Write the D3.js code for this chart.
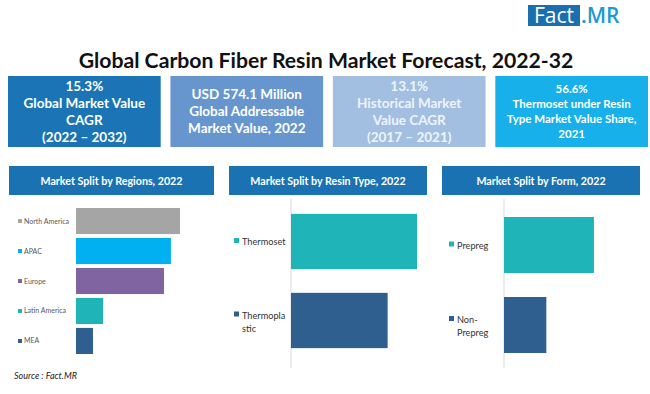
<!DOCTYPE html>
<html>
<head>
<meta charset="utf-8">
<script src="https://cdn.jsdelivr.net/npm/d3@7"></script>
<style>
  body { margin: 0; background: #fff; }
  svg { display: block; font-family: Lato, "Open Sans", sans-serif; }
</style>
</head>
<body>
<script>
// ---- data ----
const kpiTexts = [
  ["15.3%", "Global Market Value", "CAGR", "(2022 \u2013 2032)"],
  ["USD 574.1 Million", "Global Addressable", "Market Value, 2022"],
  ["13.1%", "Historical Market", "Value CAGR", "(2017 \u2013 2021)"],
  ["56.6%", "Thermoset under Resin", "Type Market Value Share,", "2021"]
];
const panelTitles = ["Market Split by Regions, 2022", "Market Split by Resin Type, 2022", "Market Split by Form, 2022"];

const regions = ["North America", "APAC", "Europe", "Latin America", "MEA"];
const regionShare = [33.1, 30.2, 28.0, 8.6, 5.4];

const resinTypes = ["Thermoset", "Thermoplastic"];
const resinLabels = [["Thermoset"], ["Thermopla", "stic"]];
const resinShare = [56.6, 43.4];

const forms = ["Prepreg", "Non-Prepreg"];
const formLabels = [["Prepreg"], ["Non-", "Prepreg"]];
const formShare = [68, 32];

const regionColors = ["#a5a5a5", "#00b0f0", "#8064a2", "#1fb4b8", "#2e5f8e"];
const twoColors = ["#1fb4b8", "#2e5f8e"];

const W = 650, H = 394;
const svg = d3.select("body").append("svg").attr("width", W).attr("height", H);

// logo
svg.append("rect").attr("x", 528).attr("y", 5).attr("width", 52).attr("height", 21).attr("fill", "#1a6fae");
svg.append("text").attr("x", 554).attr("y", 23).attr("text-anchor", "middle")
  .attr("font-family", "'Open Sans', sans-serif").attr("font-size", 21).attr("fill", "#fff").text("Fact");
svg.append("text").attr("x", 581).attr("y", 23)
  .attr("font-family", "'Open Sans', sans-serif").attr("font-weight", 600).attr("font-size", 21).attr("fill", "#1c9ad6").text(".MR");

// title
svg.append("text").attr("x", 326).attr("y", 68).attr("text-anchor", "middle")
  .attr("font-weight", 700).attr("font-size", 21.2).attr("fill", "#111")
  .text("Global Carbon Fiber Resin Market Forecast, 2022-32");

// KPI boxes
const kpiColors = ["#1b74b6", "#6796cf", "#a2bfe1", "#17b0ea"];
const kpiX = d3.scaleBand().domain(d3.range(4)).range([8, 648]).paddingInner(0.06).paddingOuter(0);
kpiTexts.forEach((lines, i) => {
  const g = svg.append("g");
  g.append("rect").attr("x", kpiX(i)).attr("y", 76).attr("width", kpiX.bandwidth()).attr("height", 71).attr("fill", kpiColors[i]);
  const fs = i === 3 ? 11.5 : 13.5;
  const lh = i === 3 ? 15 : 17;
  const y0 = 111.5 - (lines.length - 1) * lh / 2 + fs * 0.35;
  lines.forEach((t, j) => {
    g.append("text").attr("x", kpiX(i) + kpiX.bandwidth() / 2).attr("y", y0 + j * lh)
      .attr("text-anchor", "middle").attr("font-weight", 700).attr("font-size", fs)
      .attr("fill", i === 2 ? "#eef4fb" : "#fff").text(t);
  });
});

// panel headers
const panelX = [9, 229, 442], panelW = [205, 198, 198];
panelTitles.forEach((t, i) => {
  svg.append("rect").attr("x", panelX[i]).attr("y", 166).attr("width", panelW[i]).attr("height", 29).attr("fill", "#1a72b2");
  svg.append("text").attr("x", panelX[i] + panelW[i] / 2).attr("y", 184.5).attr("text-anchor", "middle")
    .attr("font-weight", 700).attr("font-size", 10.7).attr("fill", "#fff").text(t);
});

// regions chart
const x1 = d3.scaleLinear().domain([0, 35]).range([76, 186]);
const y1 = d3.scaleBand().domain(regions).range([205, 357]).paddingInner(0.13).paddingOuter(0.1);
svg.append("g").selectAll("rect").data(regions).join("rect")
  .attr("x", x1(0)).attr("y", d => y1(d))
  .attr("width", (d, i) => x1(regionShare[i]) - x1(0)).attr("height", y1.bandwidth())
  .attr("fill", (d, i) => regionColors[i]);
const rl = svg.append("g").selectAll("g").data(regions).join("g")
  .attr("transform", d => `translate(18,${y1(d) + y1.bandwidth() / 2})`);
rl.append("rect").attr("x", 0).attr("y", -2).attr("width", 4).attr("height", 4).attr("fill", (d, i) => regionColors[i]);
rl.append("text").attr("x", 6).attr("y", 2.5).attr("font-size", 7).attr("fill", "#595959").text(d => d);

svg.append("text").attr("x", 14).attr("y", 379).attr("font-style", "italic").attr("font-size", 9).attr("fill", "#222")
  .text("Source : Fact.MR");

// two-bar panels
function twoBar(cats, labels, vals, axisX, yRange, labelX, scaleMax, pxWidth) {
  const x = d3.scaleLinear().domain([0, scaleMax]).range([axisX, axisX + pxWidth]);
  const y = d3.scaleBand().domain(cats).range(yRange).paddingInner(0.3).paddingOuter(0.15);
  svg.append("line").attr("x1", axisX).attr("x2", axisX).attr("y1", 199).attr("y2", 368)
    .attr("stroke", "#d9d9d9").attr("stroke-width", 1);
  svg.append("g").selectAll("rect").data(cats).join("rect")
    .attr("x", x(0)).attr("y", d => y(d)).attr("width", (d, i) => x(vals[i]) - x(0)).attr("height", y.bandwidth())
    .attr("fill", (d, i) => twoColors[i]);
  cats.forEach((c, i) => {
    const lines = labels[i];
    const cy = y(c) + y.bandwidth() / 2;
    const top = cy - (lines.length - 1) * 13 / 2 + (lines.length > 1 ? 1 : 0);
    svg.append("rect").attr("x", labelX).attr("y", top - 3.5).attr("width", 5).attr("height", 5).attr("fill", twoColors[i]);
    lines.forEach((t, j) => {
      svg.append("text").attr("x", labelX + 8).attr("y", top + 3.5 + j * 13)
        .attr("font-size", 9.2).attr("fill", "#333").text(t);
    });
  });
}
twoBar(resinTypes, resinLabels, resinShare, 291, [202, 360], 234, 60, 133.6);
twoBar(forms, formLabels, formShare, 504, [205, 365], 449, 70, 92.6);
</script>
</body>
</html>
